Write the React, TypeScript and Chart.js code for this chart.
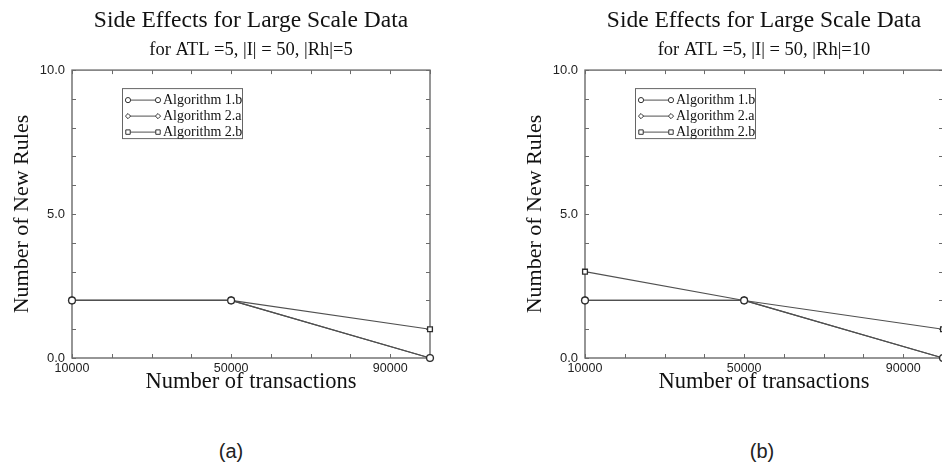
import React, { useEffect, useRef } from 'react';
import { Chart, registerables } from 'chart.js';

Chart.register(...registerables);

// ---------- data ----------
const transactions = [10000, 50000, 100000];
const xLabelValues = [10000, 50000, 90000];
const yLabelValues = [0, 5, 10];
const seriesNames = ['Algorithm 1.b', 'Algorithm 2.a', 'Algorithm 2.b'];
const seriesMarkers = ['circle', 'rectRot', 'rect'];

const panelA_alg1b = [2, 2, 0];
const panelA_alg2a = [2, 2, 0];
const panelA_alg2b = [2, 2, 1];

const panelB_alg1b = [2, 2, 0];
const panelB_alg2a = [2, 2, 0];
const panelB_alg2b = [3, 2, 1];

const mainTitle = 'Side Effects for Large Scale Data';
const subtitleA = 'for ATL =5, |I| = 50, |Rh|=5';
const subtitleB = 'for ATL =5, |I| = 50, |Rh|=10';
const yAxisTitle = 'Number of New Rules';
const xAxisTitle = 'Number of transactions';
const panelCaptions = ['(a)', '(b)'];

// ---------- styling ----------
const SERIF = "'Liberation Serif', 'Times New Roman', serif";
const SANS = "'Liberation Sans', Arial, sans-serif";
const LINE = '#505050';
const FRAME = '#6a6a6a';

function drawMarker(ctx: CanvasRenderingContext2D, style: string, x: number, y: number, r: number) {
  ctx.beginPath();
  if (style === 'circle') {
    ctx.arc(x, y, r, 0, Math.PI * 2);
  } else if (style === 'rectRot') {
    ctx.moveTo(x, y - r);
    ctx.lineTo(x + r, y);
    ctx.lineTo(x, y + r);
    ctx.lineTo(x - r, y);
    ctx.closePath();
  } else {
    ctx.rect(x - r * 0.85, y - r * 0.85, r * 1.7, r * 1.7);
  }
  ctx.fillStyle = '#ffffff';
  ctx.fill();
  ctx.stroke();
}

const framePlugin = {
  id: 'frameTicks',
  beforeDatasetsDraw(chart: any) {
    const { ctx, chartArea, scales } = chart;
    const { left, right, top, bottom } = chartArea;
    const xs = scales.x;
    const ys = scales.y;
    ctx.save();
    ctx.strokeStyle = FRAME;
    ctx.lineWidth = 1.4;
    ctx.strokeRect(left, top, right - left, bottom - top);
    ctx.beginPath();
    const len = 4;
    xs.ticks.forEach((t: any) => {
      const px = Math.round(xs.getPixelForValue(t.value)) + 0.5;
      ctx.moveTo(px, bottom);
      ctx.lineTo(px, bottom - len);
      ctx.moveTo(px, top);
      ctx.lineTo(px, top + len);
    });
    ys.ticks.forEach((t: any) => {
      const py = Math.round(ys.getPixelForValue(t.value)) + 0.5;
      ctx.moveTo(left, py);
      ctx.lineTo(left + len, py);
      ctx.moveTo(right, py);
      ctx.lineTo(right - len, py);
    });
    ctx.lineWidth = 1;
    ctx.stroke();
    ctx.restore();
  },
};

const insetLegendPlugin = {
  id: 'insetLegend',
  afterDatasetsDraw(chart: any, _args: any, opts: any) {
    const { ctx, chartArea } = chart;
    const bx = chartArea.left + opts.offsetX;
    const by = chartArea.top + opts.offsetY;
    ctx.save();
    ctx.fillStyle = '#ffffff';
    ctx.fillRect(bx, by, opts.width, opts.height);
    ctx.strokeStyle = '#666666';
    ctx.lineWidth = 1;
    ctx.strokeRect(bx + 0.5, by + 0.5, opts.width, opts.height);
    chart.data.datasets.forEach((ds: any, i: number) => {
      const cy = by + opts.firstRow + i * opts.rowGap;
      const x0 = bx + 6;
      const x1 = bx + 36;
      ctx.strokeStyle = LINE;
      ctx.lineWidth = 1;
      ctx.beginPath();
      ctx.moveTo(x0, cy);
      ctx.lineTo(x1, cy);
      ctx.stroke();
      ctx.strokeStyle = '#333333';
      drawMarker(ctx, ds.pointStyle, x0, cy, 2.6);
      drawMarker(ctx, ds.pointStyle, x1, cy, 2.6);
      ctx.fillStyle = '#111111';
      ctx.font = `14px ${SERIF}`;
      ctx.textBaseline = 'middle';
      ctx.textAlign = 'left';
      ctx.fillText(ds.label, x1 + 5, cy + 0.5);
    });
    ctx.restore();
  },
};

function buildConfig(series: number[][], subtitle: string): any {
  return {
    type: 'line',
    data: {
      datasets: series.map((vals, i) => ({
        label: seriesNames[i],
        data: transactions.map((t, j) => ({ x: t, y: vals[j] })),
        borderColor: LINE,
        borderWidth: 1.1,
        pointStyle: seriesMarkers[i],
        pointRadius: 3.4,
        pointBorderWidth: 1.3,
        pointBorderColor: '#2e2e2e',
        pointBackgroundColor: '#ffffff',
        tension: 0,
        clip: false,
      })),
    },
    options: {
      animation: false,
      responsive: false,
      events: [],
      layout: { padding: { left: 5, right: 41, top: 0, bottom: 0 } },
      plugins: {
        legend: { display: false },
        tooltip: { enabled: false },
        title: {
          display: true,
          text: mainTitle,
          fullSize: false,
          color: '#111111',
          font: { family: SERIF, size: 23.5, weight: 'normal', lineHeight: 1.2 },
          padding: { top: 7, bottom: 0 },
        },
        subtitle: {
          display: true,
          text: subtitle,
          fullSize: false,
          color: '#111111',
          font: { family: SERIF, size: 18.5, weight: 'normal', lineHeight: 1.2 },
          padding: { top: 3.8, bottom: 8.9 },
        },
        insetLegend: { offsetX: 50, offsetY: 18, width: 120, height: 50, firstRow: 12, rowGap: 16 },
      },
      scales: {
        x: {
          type: 'linear',
          min: 10000,
          max: 100000,
          afterFit: (s: any) => { s.height = 42; },
          afterBuildTicks: (s: any) => {
            const t = [];
            for (let v = 10000; v <= 100000; v += 10000) t.push({ value: v });
            s.ticks = t;
          },
          ticks: {
            autoSkip: false,
            maxRotation: 0,
            padding: 3,
            color: '#222222',
            font: { family: SANS, size: 12.5 },
            callback: (v: number) => (xLabelValues.includes(v) ? String(v) : ''),
          },
          grid: { display: false, drawTicks: false },
          border: { display: false },
          title: {
            display: true,
            text: xAxisTitle,
            color: '#111111',
            font: { family: SERIF, size: 22.5, lineHeight: 1.2 },
            padding: { top: 0, bottom: 4 },
          },
        },
        y: {
          type: 'linear',
          min: 0,
          max: 10,
          afterFit: (s: any) => { s.width = 67; },
          afterBuildTicks: (s: any) => {
            const t = [];
            for (let v = 0; v <= 10; v += 1) t.push({ value: v });
            s.ticks = t;
          },
          ticks: {
            autoSkip: false,
            padding: 7,
            color: '#222222',
            font: { family: SANS, size: 13 },
            callback: (v: number) => (yLabelValues.includes(v) ? v.toFixed(1) : ''),
          },
          grid: { display: false, drawTicks: false },
          border: { display: false },
          title: {
            display: true,
            text: yAxisTitle,
            color: '#111111',
            font: { family: SERIF, size: 22, lineHeight: 1.2 },
            padding: { top: 4, bottom: 0 },
          },
        },
      },
    },
    plugins: [framePlugin, insetLegendPlugin],
  };
}

function Panel({ series, subtitle, left }: { series: number[][]; subtitle: string; left: number }) {
  const ref = useRef<HTMLCanvasElement | null>(null);
  useEffect(() => {
    if (!ref.current) return;
    const chart = new Chart(ref.current, buildConfig(series, subtitle));
    return () => chart.destroy();
  }, [series, subtitle]);
  return (
    <div style={{ position: 'absolute', left, top: 0, width: 471, height: 400 }}>
      <canvas ref={ref} width={471} height={400} style={{ width: 471, height: 400, display: 'block' }} />
    </div>
  );
}

const seriesA = [panelA_alg1b, panelA_alg2a, panelA_alg2b];
const seriesB = [panelB_alg1b, panelB_alg2a, panelB_alg2b];

const captionStyle = {
  position: 'absolute' as const,
  width: 100,
  top: 440,
  textAlign: 'center' as const,
  font: `20px ${SANS}`,
  color: '#222222',
};

export default function App() {
  return (
    <div
      style={{
        position: 'fixed',
        left: 0,
        top: 0,
        width: 942,
        height: 465,
        overflow: 'hidden',
        background: '#ffffff',
      }}
    >
      <Panel series={seriesA} subtitle={subtitleA} left={0} />
      <Panel series={seriesB} subtitle={subtitleB} left={513} />
      <div style={{ ...captionStyle, left: 181 }}>{panelCaptions[0]}</div>
      <div style={{ ...captionStyle, left: 712 }}>{panelCaptions[1]}</div>
    </div>
  );
}
